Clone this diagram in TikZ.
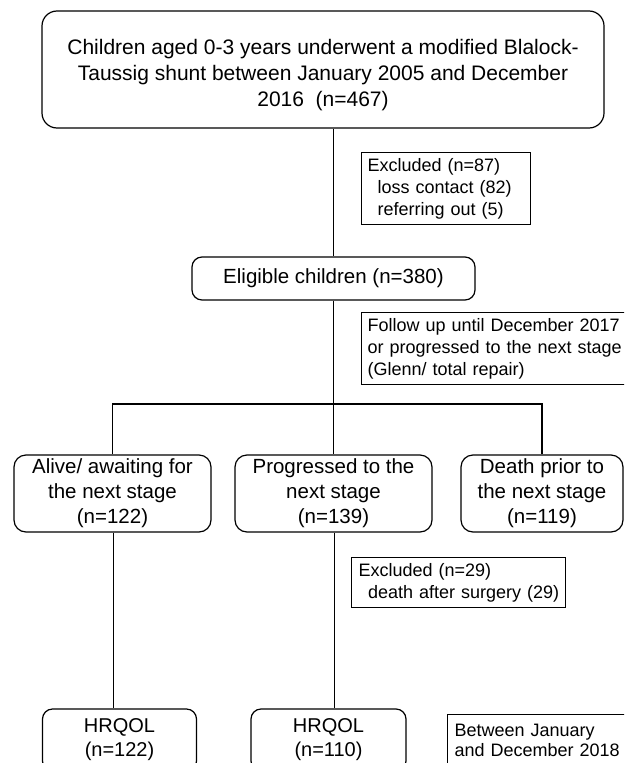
\documentclass[tikz,border=0pt]{standalone}
\usepackage{fontspec}
\setmainfont{Liberation Sans}
\begin{document}
\begin{tikzpicture}[x=1pt,y=-1pt,
  rbox/.style={draw, line width=1.2pt, rounded corners=12pt, align=center, inner sep=0pt},
  sbox/.style={draw, line width=1.2pt, anchor=north west, align=left, inner xsep=6pt, inner ysep=0pt},
  big/.style={font=\fontsize{20.5}{25}\selectfont},
  small/.style={font=\fontsize{18}{22}\selectfont},
  conn/.style={line width=1.2pt}]
\useasboundingbox (0,0) rectangle (624,763);
\clip (0,0) rectangle (624,763);
\fill[white] (0,0) rectangle (624,763);
% top box
\node[rbox, rounded corners=15pt, minimum width=562pt, minimum height=117pt] (top) at (323,69.5) {};
\node[align=center, inner sep=0pt, font=\fontsize{21}{26}\selectfont] (toptext) at (323,75)
  {Children aged 0-3 years underwent a modified Blalock-\\Taussig shunt between January 2005 and December\\2016\ \ (n=467)};
% excluded 87
\node[sbox, text width=157pt, minimum height=72pt, small] (ex1) at (361,152)
  {\mbox{Excluded (n=87)}\\\mbox{\hspace*{10pt}loss contact (82)}\\\mbox{\hspace*{10pt}referring out (5)}};
% eligible
\node[rbox, rounded corners=10pt, minimum width=283pt, minimum height=43pt, big] (elig) at (333.5,278.5) {Eligible children (n=380)};
% follow up
\node[sbox, text width=263pt, minimum height=72pt, small] (follow) at (361,312)
  {\mbox{Follow up until December 2017}\\\mbox{or progressed to the next stage}\\\mbox{(Glenn/ total repair)}};
% three boxes
\node[rbox, minimum width=197pt, minimum height=77pt, big] (alive) at (112.5,493.5) {Alive/ awaiting for\\the next stage\\(n=122)};
\node[rbox, minimum width=197pt, minimum height=77pt, big] (prog) at (333.5,493.5) {Progressed to the\\next stage\\(n=139)};
\node[rbox, minimum width=162pt, minimum height=77pt, big] (death) at (542,493.5) {Death prior to\\the next stage\\(n=119)};
% excluded 29
\node[sbox, inner xsep=7pt, text width=200pt, minimum height=50pt, small] (ex2) at (351,557)
  {\mbox{Excluded (n=29)}\\\mbox{\hspace*{9.5pt}death after surgery (29)}};
% HRQOL
\node[rbox, rounded corners=10pt, minimum width=154pt, minimum height=62pt, font=\fontsize{20}{24}\selectfont] (h1) at (119.5,740) {HRQOL\\(n=122)};
\node[rbox, rounded corners=10pt, minimum width=155pt, minimum height=62pt, font=\fontsize{20}{24}\selectfont] (h2) at (328.5,740) {HRQOL\\(n=110)};
\node[sbox, inner xsep=7pt, text width=186pt, minimum height=52pt, font=\fontsize{18}{20}\selectfont] (betw) at (447,714)
  {\mbox{Between January}\\\mbox{and December 2018}};
% connectors
\coordinate (br) at (333.5,404);
\draw[conn] (elig.north |- top.south) -- (elig.north);
\draw[conn] (elig.south) -- (prog.north);
\draw[conn] (alive.north) |- (br) -| (death.north);
\draw[conn] ([xshift=1pt]alive.south) -- ([xshift=1pt]alive.south |- h1.north);
\draw[conn] ([xshift=1pt]prog.south) -- ([xshift=1pt]prog.south |- h2.north);
\end{tikzpicture}
\end{document}
